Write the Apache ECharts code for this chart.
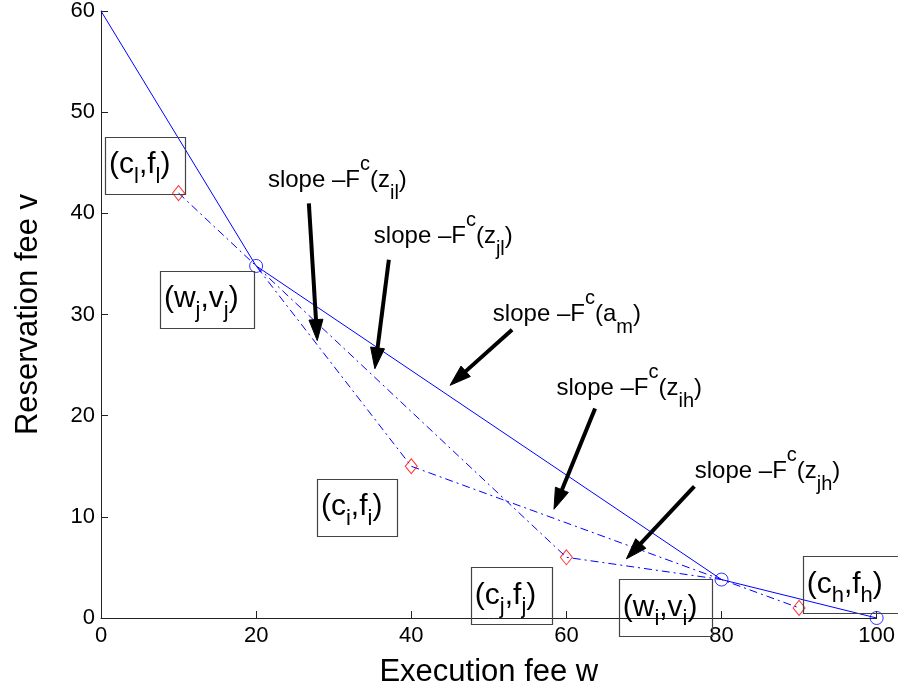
<!DOCTYPE html>
<html><head><meta charset="utf-8">
<script src="https://cdn.jsdelivr.net/npm/echarts@6/dist/echarts.min.js"></script>
<style>html,body{margin:0;padding:0;background:#fff}#c{width:898px;height:693px}</style>
</head><body><div id="c"></div>
<script>
// ---- data ----
const xTicks = [0, 20, 40, 60, 80, 100];
const yTicks = [0, 10, 20, 30, 40, 50, 60];
const envelopeW = [0, 20, 80, 100];
const envelopeV = [60, 34.8, 3.8, 0];
const pathIW = [10, 20, 40, 80, 90];
const pathIV = [42, 34.8, 15, 3.8, 1];
const pathJW = [20, 60, 80];
const pathJV = [34.8, 6, 3.8];
const kinkW = [20, 80, 100];
const kinkV = [34.8, 3.8, 0];
const contractW = [10, 40, 60, 90];
const contractF = [42, 15, 6, 1];
// point labels (letter, subscript, letter, subscript) and their top-left anchors in data units
const boxTexts = [['c','l','f','l'], ['w','j','v','j'], ['c','i','f','i'], ['c','j','f','j'], ['w','i','v','i'], ['c','h','f','h']];
const boxAnchorW = [0.52, 7.6, 27.84, 47.68, 66.75, 90.46];
const boxAnchorV = [47.55, 34.3, 13.73, 5.0, 3.82, 6.08];
// slope annotations: argument letter and subscript, text baseline-left anchor
const slopeArgs = [['z','il'], ['z','jl'], ['a','m'], ['z','ih'], ['z','jh']];
const slopeTextW = [21.52, 35.18, 50.52, 58.72, 76.55];
const slopeTextV = [42.45, 36.89, 29.2, 21.86, 13.7];
const arrowFromW = [26.8, 37.11, 53.0, 63.7, 76.5];
const arrowFromV = [40.98, 35.42, 28.5, 20.7, 13.0];
const arrowToW = [27.88, 35.31, 45.0, 58.4, 67.74];
const arrowToV = [27.42, 24.64, 23.0, 10.75, 5.85];

// ---- layout / style ----
const FONT = '"Liberation Sans", Arial, Helvetica, sans-serif';
const blue = '#0000ff', red = '#ff0000', axisCol = '#222';
const boxWidths = [80, 94, 80, 81, 93, 97];
const boxHeight = 57;
const dashDot = [8, 4, 2, 4];
const zip = (a, b) => a.map((v, i) => [v, b[i]]);
const chart = echarts.init(document.getElementById('c'), null, {renderer: 'canvas'});

function axisCommon(ticks) {
  return {
    type: 'value', min: ticks[0], max: ticks[ticks.length - 1], interval: ticks[1] - ticks[0],
    nameLocation: 'middle',
    nameTextStyle: {fontSize: 31, fontFamily: FONT, color: '#000'},
    axisLine: {show: true, lineStyle: {color: axisCol, width: 1}},
    axisTick: {show: true, inside: true, length: 7, lineStyle: {color: axisCol}},
    axisLabel: {fontSize: 22, fontFamily: FONT, color: '#000'},
    splitLine: {show: false}
  };
}
const xAxis = axisCommon(xTicks);
xAxis.name = 'Execution fee w'; xAxis.nameGap = 39; xAxis.axisLabel.margin = 7;
const yAxis = axisCommon(yTicks);
yAxis.name = 'Reservation fee v'; yAxis.nameGap = 57; yAxis.axisLabel.margin = 6;
yAxis.axisLabel.padding = [4, 0, 0, 0];

chart.setOption({
  animation: false,
  backgroundColor: '#fff',
  grid: {left: 101, right: 21, top: 6, bottom: 75, containLabel: false},
  xAxis: xAxis,
  yAxis: yAxis,
  series: [
    {type: 'line', data: zip(envelopeW, envelopeV), symbol: 'none', lineStyle: {color: blue, width: 1}, z: 3},
    {type: 'line', data: zip(pathIW, pathIV), symbol: 'none', lineStyle: {color: blue, width: 1, type: dashDot}, z: 2},
    {type: 'line', data: zip(pathJW, pathJV), symbol: 'none', lineStyle: {color: blue, width: 1, type: dashDot}, z: 2},
    {type: 'scatter', data: zip(kinkW, kinkV), symbol: 'circle', symbolSize: 13,
     itemStyle: {color: 'rgba(0,0,0,0)', borderColor: blue, borderWidth: 1}, z: 4},
    {type: 'scatter', data: zip(contractW, contractF), symbol: 'diamond', symbolSize: [12, 15],
     itemStyle: {color: 'rgba(0,0,0,0)', borderColor: red, borderWidth: 1}, z: 4}
  ]
});

const px = p => chart.convertToPixel({gridIndex: 0}, p);
const graphics = [];

// boxed point labels
const boxRich = {
  m: {fontSize: 30, fontFamily: FONT, lineHeight: 30, verticalAlign: 'top', fill: '#000'},
  s: {fontSize: 22, fontFamily: FONT, lineHeight: 22, padding: [15.5, 0, 0, 0], verticalAlign: 'top', fill: '#000'}
};
boxTexts.forEach((t, i) => {
  const p = px([boxAnchorW[i], boxAnchorV[i]]);
  graphics.push({
    type: 'rect', z: 10,
    shape: {x: Math.round(p[0]) + 0.5, y: Math.round(p[1]) + 0.5, width: boxWidths[i], height: boxHeight},
    style: {fill: 'rgba(0,0,0,0)', stroke: '#444', lineWidth: 1.2}
  });
  graphics.push({
    type: 'text', x: p[0] + 4, y: p[1] + 13, z: 10,
    style: {
      text: '{m|(' + t[0] + '}{s|' + t[1] + '}{m|,' + t[2] + '}{s|' + t[3] + '}{m|)}',
      rich: boxRich, align: 'left', verticalAlign: 'top'
    }
  });
});

// slope annotations
const slopeRich = {
  p: {fontSize: 20, fontFamily: FONT, lineHeight: 21, verticalAlign: 'top', fill: '#000'},
  m: {fontSize: 24, fontFamily: FONT, lineHeight: 25, padding: [14, 0, 0, 0], verticalAlign: 'top', fill: '#000'},
  s: {fontSize: 20, fontFamily: FONT, lineHeight: 21, padding: [29, 0, 0, 0], verticalAlign: 'top', fill: '#000'}
};
slopeArgs.forEach((a, i) => {
  const p = px([slopeTextW[i], slopeTextV[i]]);
  graphics.push({
    type: 'text', x: p[0], y: p[1] - 34.4, z: 10,
    style: {
      text: '{m|slope \u2013F}{p|c}{m|(' + a[0] + '}{s|' + a[1] + '}{m|)}',
      rich: slopeRich, align: 'left', verticalAlign: 'top'
    }
  });
});

// arrows
const headLen = 21, headW = 14;
arrowFromW.forEach((w, i) => {
  const a = px([w, arrowFromV[i]]);
  const b = px([arrowToW[i], arrowToV[i]]);
  const dx = b[0] - a[0], dy = b[1] - a[1];
  const L = Math.hypot(dx, dy), ux = dx / L, uy = dy / L;
  const bx = b[0] - ux * headLen, by = b[1] - uy * headLen;
  graphics.push({
    type: 'line', z: 11,
    shape: {x1: a[0], y1: a[1], x2: b[0] - ux * (headLen - 2), y2: b[1] - uy * (headLen - 2)},
    style: {stroke: '#000', lineWidth: 4}
  });
  graphics.push({
    type: 'polygon', z: 11,
    shape: {points: [[b[0], b[1]], [bx - uy * headW / 2, by + ux * headW / 2], [bx + uy * headW / 2, by - ux * headW / 2]]},
    style: {fill: '#000', stroke: '#000', lineWidth: 1}
  });
});

chart.setOption({graphic: graphics});
</script>
</body></html>
